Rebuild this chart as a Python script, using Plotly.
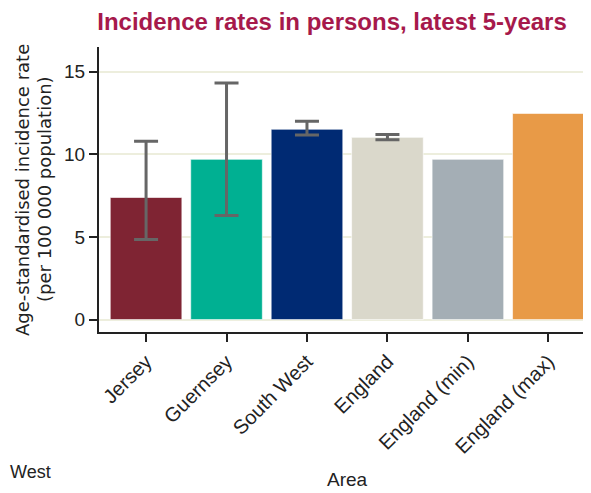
import plotly.graph_objects as go

areas = ["Jersey", "Guernsey", "South West", "England", "England (min)", "England (max)"]
rates = [7.39, 9.70, 11.52, 11.03, 9.70, 12.48]
ci_areas = ["Jersey", "Guernsey", "South West", "England"]
ci_rates = [7.39, 9.70, 11.52, 11.03]
upper_ci = [10.79, 14.32, 12.00, 11.20]
lower_ci = [4.85, 6.30, 11.17, 10.88]
bar_colors = ["#7F2433", "#00B092", "#002A73", "#DAD8CB", "#A4AEB5", "#E89A47"]
y_ticks = [0, 5, 10, 15]

err_plus = [u - r for u, r in zip(upper_ci, ci_rates)]
err_minus = [r - l for l, r in zip(lower_ci, ci_rates)]

font_family = "Liberation Sans, Arial, sans-serif"
wide_family = "DejaVu Sans, Verdana, sans-serif"
text_color = "#222222"

# page body has an 8px margin; figure is sized/shifted to compensate
OFF = 8
W, H = 591 - OFF, 493 - OFF
L, R, T = 99 - OFF, 0, 47 - OFF
B = H - (332 - OFF)
pw, ph = W - L - R, H - T - B

def px_x(x):
    return (x - OFF - L) / pw

def px_y(y):
    return (H - B - (y - OFF)) / ph

fig = go.Figure()
fig.add_trace(go.Bar(
    x=areas,
    y=rates,
    marker=dict(color=bar_colors, line=dict(color="rgba(255,255,255,0.6)", width=1)),
    showlegend=False,
    hoverinfo="x+y",
))
fig.add_trace(go.Scatter(
    x=ci_areas,
    y=ci_rates,
    mode="markers",
    marker=dict(size=0.1, color="rgba(0,0,0,0)"),
    error_y=dict(
        type="data",
        symmetric=False,
        array=err_plus,
        arrayminus=err_minus,
        color="#666666",
        thickness=3,
        width=12,
    ),
    showlegend=False,
    hoverinfo="skip",
))

fig.update_layout(
    width=W,
    height=H,
    margin=dict(l=L, r=R, t=T, b=B),
    paper_bgcolor="white",
    plot_bgcolor="white",
    bargap=0.11,
    font=dict(family=font_family, size=19, color=text_color),
    title=dict(
        text="<b>Incidence rates in persons, latest 5-years</b>",
        font=dict(family=font_family, size=24, color="#A6194B"),
        x=(332 - OFF) / W, xanchor="center",
        y=1 - 5 / H, yanchor="top",
        xref="container", yref="container",
        pad=dict(t=0, b=0, l=0, r=0),
    ),
    xaxis=dict(
        range=[-0.585, 5.53],
        showline=True, linecolor=text_color, linewidth=2,
        ticks="outside", ticklen=8, tickwidth=2, tickcolor=text_color,
        tickangle=-45,
        tickfont=dict(size=20, color=text_color),
        showgrid=False,
        automargin=False,
    ),
    yaxis=dict(
        range=[-0.75, 16.5],
        tickvals=y_ticks,
        showline=True, linecolor=text_color, linewidth=2,
        ticks="outside", ticklen=8, tickwidth=2, tickcolor=text_color,
        tickfont=dict(size=19, color=text_color),
        showgrid=True, gridcolor="#EDEEDD", gridwidth=1.5,
        zeroline=False,
        automargin=False,
    ),
    annotations=[
        dict(text="Age-standardised incidence rate", xref="paper", yref="paper",
             x=px_x(22), y=px_y(190), textangle=-90,
             xanchor="center", yanchor="middle", showarrow=False,
             font=dict(family=wide_family, size=18, color=text_color)),
        dict(text="(per 100 000 population)", xref="paper", yref="paper",
             x=px_x(44), y=px_y(189), textangle=-90,
             xanchor="center", yanchor="middle", showarrow=False,
             font=dict(family=wide_family, size=18, color=text_color)),
        dict(text="Area", xref="paper", yref="paper",
             x=px_x(347), y=px_y(479),
             xanchor="center", yanchor="middle", showarrow=False,
             font=dict(size=19, color=text_color)),
        dict(text="West", xref="paper", yref="paper",
             x=px_x(8), y=px_y(472),
             xanchor="left", yanchor="middle", showarrow=False,
             font=dict(size=18, color=text_color)),
    ],
)

fig.write_html("out.html")
